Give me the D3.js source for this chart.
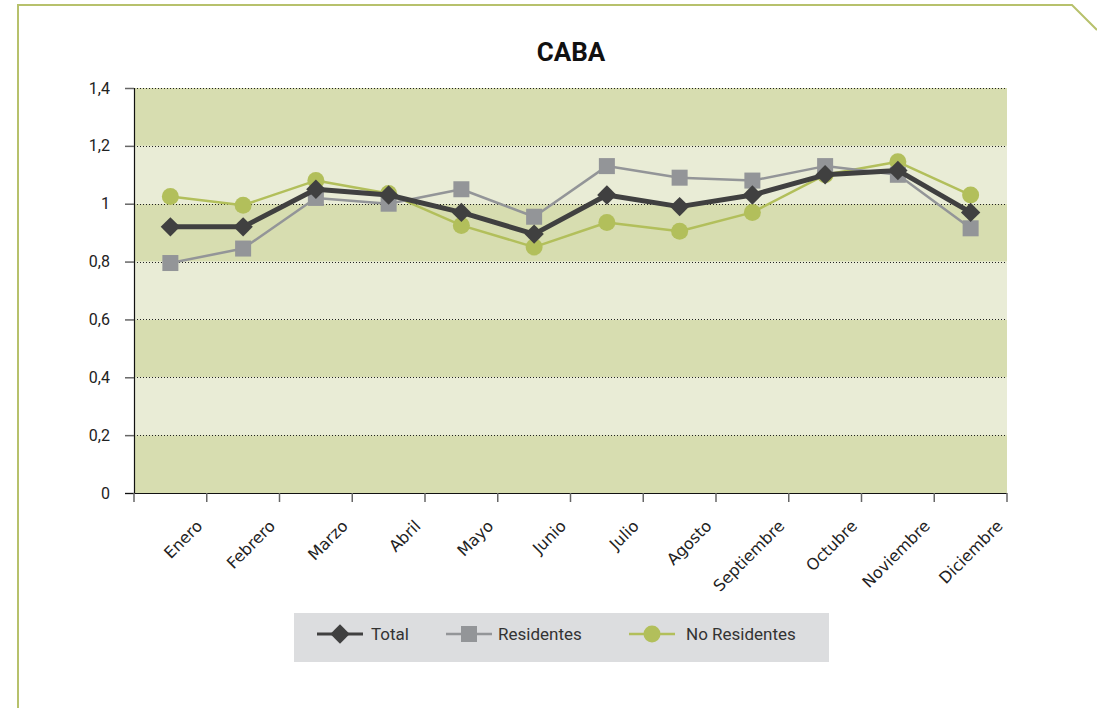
<!DOCTYPE html>
<html>
<head>
<meta charset="utf-8">
<script src="https://cdn.jsdelivr.net/npm/d3@7"></script>
<style>
  html, body { margin: 0; padding: 0; background: #fff; }
  svg { display: block; }
</style>
</head>
<body>
<svg id="chart" width="1097" height="708"></svg>
<script>
// Months shown on the category axis
const months = ["Enero", "Febrero", "Marzo", "Abril", "Mayo", "Junio", "Julio",
  "Agosto", "Septiembre", "Octubre", "Noviembre", "Diciembre"];

// Series values per month
const total = [0.92, 0.92, 1.05, 1.03, 0.97, 0.895, 1.03, 0.99, 1.03, 1.10, 1.115, 0.97];
const residentes = [0.795, 0.845, 1.02, 1.00, 1.05, 0.955, 1.13, 1.09, 1.08, 1.13, 1.10, 0.915];
const noResidentes = [1.025, 0.995, 1.08, 1.035, 0.925, 0.85, 0.935, 0.905, 0.97, 1.10, 1.145, 1.03];

// Value axis ticks
const yTicks = [0, 0.2, 0.4, 0.6, 0.8, 1, 1.2, 1.4];
const yTickLabels = ["0", "0,2", "0,4", "0,6", "0,8", "1", "1,2", "1,4"];

const series = [
  { name: "Total", values: total, color: "#404040", width: 5, marker: "diamond" },
  { name: "Residentes", values: residentes, color: "#939598", width: 2.5, marker: "square" },
  { name: "No Residentes", values: noResidentes, color: "#b2bf5b", width: 2.5, marker: "circle" }
];

const svg = d3.select("#chart");
const font = "Roboto, 'Noto Sans', sans-serif";

// Decorative frame: top rule with a folded corner and the left rule
const frame = "#b7c16c";
svg.append("path")
  .attr("d", "M18,708 L18,5 L1072,5 L1097,30")
  .attr("fill", "none").attr("stroke", frame).attr("stroke-width", 2);

// Title
svg.append("text")
  .attr("x", 571).attr("y", 61)
  .attr("text-anchor", "middle")
  .attr("font-family", font).attr("font-weight", "bold")
  .attr("font-size", 26).attr("fill", "#111")
  .text("CABA");

const plot = { left: 134, right: 1007, top: 88, bottom: 493 };

const x = d3.scaleBand().domain(months).range([plot.left, plot.right]).padding(0);
const y = d3.scaleLinear().domain([0, 1.4]).range([plot.bottom, plot.top]);

// Alternating horizontal bands
const bands = d3.range(yTicks.length - 1).map(i => [yTicks[i], yTicks[i + 1], i]);
svg.append("g").selectAll("rect").data(bands).join("rect")
  .attr("x", plot.left).attr("width", plot.right - plot.left)
  .attr("y", d => y(d[1])).attr("height", d => y(d[0]) - y(d[1]))
  .attr("fill", d => d[2] % 2 === 0 ? "#d7ddb0" : "#e9ecd6");

// Dotted gridlines
svg.append("g").selectAll("line").data(yTicks.slice(1)).join("line")
  .attr("x1", plot.left).attr("x2", plot.right)
  .attr("y1", d => Math.round(y(d)) + 0.5).attr("y2", d => Math.round(y(d)) + 0.5)
  .attr("stroke", "#222").attr("stroke-width", 1).attr("stroke-dasharray", "1,2");

// Y axis
const yAxis = d3.axisLeft(y).tickValues(yTicks)
  .tickFormat((d, i) => yTickLabels[i]).tickSize(9).tickPadding(15);
const gy = svg.append("g").attr("transform", `translate(${plot.left},0)`).call(yAxis);
gy.select(".domain").attr("stroke", "#111").attr("stroke-width", 1.2);
gy.selectAll(".tick line").attr("stroke", "#666").attr("stroke-width", 1.5);
gy.selectAll(".tick text").attr("font-family", font).attr("font-size", 16).attr("fill", "#222");

// X axis with tick marks at category boundaries
svg.append("line")
  .attr("x1", plot.left - 9).attr("x2", plot.right)
  .attr("y1", plot.bottom + 0.5).attr("y2", plot.bottom + 0.5)
  .attr("stroke", "#111").attr("stroke-width", 1.2);
const boundaries = months.map(m => x(m)).concat([plot.right]);
svg.append("g").selectAll("line").data(boundaries).join("line")
  .attr("x1", d => d).attr("x2", d => d)
  .attr("y1", plot.bottom).attr("y2", plot.bottom + 9)
  .attr("stroke", "#666").attr("stroke-width", 1.5);

const cx = m => x(m) + x.bandwidth() / 2;
svg.append("g").selectAll("text").data(months).join("text")
  .attr("transform", d => `translate(${cx(d) + 33},${plot.bottom + 34}) rotate(-45)`)
  .attr("text-anchor", "end")
  .attr("font-family", "'DejaVu Sans', Verdana, sans-serif")
  .attr("font-size", 16).attr("fill", "#222")
  .text(d => d);

// Lines and markers
const line = d3.line().x((d, i) => cx(months[i])).y(d => y(d));

function drawMarker(g, type, color, px, py) {
  if (type === "diamond") {
    g.append("path").attr("d", d3.symbol(d3.symbolDiamond2, 240)())
      .attr("transform", `translate(${px},${py})`)
      .attr("fill", color);
  } else if (type === "square") {
    g.append("rect").attr("x", px - 8).attr("y", py - 8)
      .attr("width", 16).attr("height", 16).attr("fill", color);
  } else {
    g.append("circle").attr("cx", px).attr("cy", py).attr("r", 8.5).attr("fill", color);
  }
}

// draw order: No Residentes under Residentes under Total
[series[2], series[1], series[0]].forEach(s => {
  const g = svg.append("g");
  g.append("path").datum(s.values)
    .attr("d", line).attr("fill", "none")
    .attr("stroke", s.color).attr("stroke-width", s.width)
    .attr("stroke-linejoin", "round");
  s.values.forEach((v, i) => drawMarker(g, s.marker, s.color, cx(months[i]), y(v)));
});

// Legend
const legend = svg.append("g");
legend.append("rect").attr("x", 294).attr("y", 613).attr("width", 535).attr("height", 49)
  .attr("fill", "#dcdddf");
const legendX = [317, 446, 629];
const legendTextX = [371, 498, 686];
series.forEach((s, i) => {
  const g = legend.append("g");
  g.append("line").attr("x1", legendX[i]).attr("x2", legendX[i] + 46)
    .attr("y1", 634).attr("y2", 634)
    .attr("stroke", s.color).attr("stroke-width", s.width === 5 ? 3 : 2.5);
  drawMarker(g, s.marker, s.color, legendX[i] + 23, 634);
  g.append("text").attr("x", legendTextX[i]).attr("y", 640)
    .attr("font-family", font).attr("font-size", 17).attr("fill", "#333")
    .text(s.name);
});
</script>
</body>
</html>
